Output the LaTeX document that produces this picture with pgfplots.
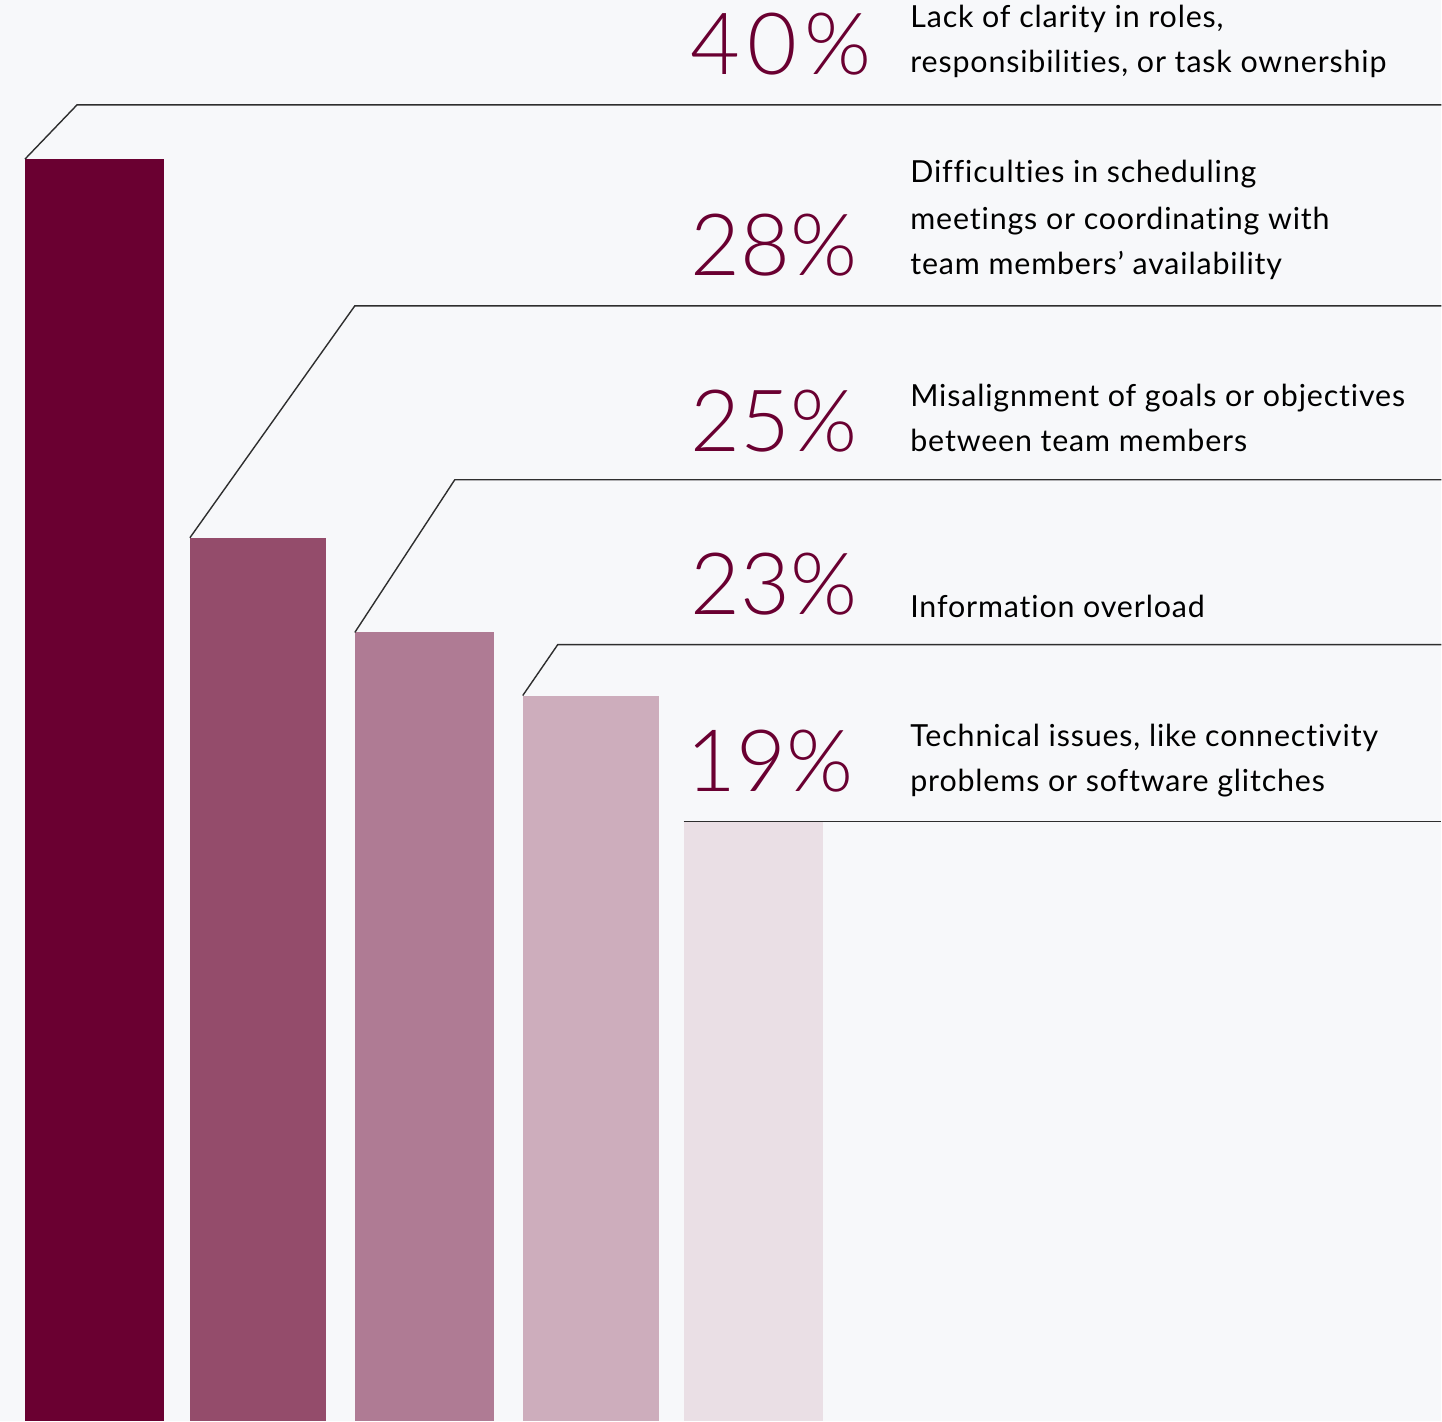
\documentclass[border=0pt]{standalone}
\usepackage{pgfplots}
\pgfplotsset{compat=1.18}
\usepackage{fontspec}
\setmainfont{Lato}
\newfontfamily\labfont{Lato}[LetterSpace=2.8, Ligatures=NoCommon]
\newfontfamily\pctfont{Lato Light}
\definecolor{bg}{HTML}{F7F8FA}
\definecolor{c1}{HTML}{6A0031}
\definecolor{c2}{HTML}{944C6B}
\definecolor{c3}{HTML}{AF7B94}
\definecolor{c4}{HTML}{CDADBC}
\definecolor{c5}{HTML}{EADFE5}
\definecolor{ln}{HTML}{2E2E2E}
\begin{document}
\begin{tikzpicture}
\begin{axis}[x=0.25pt, y=7.8925pt, xmin=0, xmax=1442, ymin=0, ymax=45.043,
  hide axis, clip=false, scale only axis]
\fill[bg] (axis cs:0,0) rectangle (axis cs:1442,45.043);
\addplot[ybar, bar width=139, bar shift=0pt, fill=c1, draw=none] coordinates {(94.5,40)};
\addplot[ybar, bar width=136, bar shift=0pt, fill=c2, draw=none] coordinates {(258,28)};
\addplot[ybar, bar width=139, bar shift=0pt, fill=c3, draw=none] coordinates {(424.5,25)};
\addplot[ybar, bar width=136, bar shift=0pt, fill=c4, draw=none] coordinates {(591,23)};
\addplot[ybar, bar width=139, bar shift=0pt, fill=c5, draw=none] coordinates {(753.5,19)};
\addplot[ln, line width=0.35pt, mark=none] coordinates {(25,40) (77,41.717) (1442,41.717)};
\addplot[ln, line width=0.35pt, mark=none] coordinates {(190,28) (355,35.350) (1442,35.350)};
\addplot[ln, line width=0.35pt, mark=none] coordinates {(355,25) (455,29.839) (1442,29.839)};
\addplot[ln, line width=0.35pt, mark=none] coordinates {(523,23) (558,24.612) (1442,24.612)};
\addplot[ln, line width=0.35pt, mark=none] coordinates {(684,19) (1442,19)};
\tikzset{pct/.style={anchor=base west, inner sep=0pt, text=c1, font=\pctfont\fontsize{21.5}{24}\selectfont},
  lab/.style={anchor=base west, inner sep=0pt, text=black, font=\labfont\fontsize{7.6}{9}\selectfont}}
\node[pct] at (axis cs:690,42.667) {4\kern1.8pt0\kern1.8pt\%};
\node[pct] at (axis cs:690,36.300) {28\%};
\node[pct] at (axis cs:690,30.726) {25\%};
\node[pct] at (axis cs:690,25.562) {23\%};
\node[pct] at (axis cs:686,19.956) {19\%};
\node[lab] at (axis cs:910,44.156) {Lack of clarity in roles,};
\node[lab] at (axis cs:910,42.731) {responsibilities, or task ownership};
\node[lab] at (axis cs:910,39.246) {Difficulties in scheduling};
\node[lab] at (axis cs:910,37.757) {meetings or coordinating with};
\node[lab] at (axis cs:910,36.332) {team members’ availability};
\node[lab] at (axis cs:910,32.151) {Misalignment of goals or objectives};
\node[lab] at (axis cs:910,30.726) {between team members};
\node[lab] at (axis cs:910,25.467) {Information overload};
\node[lab] at (axis cs:910,21.381) {Technical issues, like connectivity};
\node[lab] at (axis cs:910,19.956) {problems or software glitches};
\end{axis}
\end{tikzpicture}
\end{document}
